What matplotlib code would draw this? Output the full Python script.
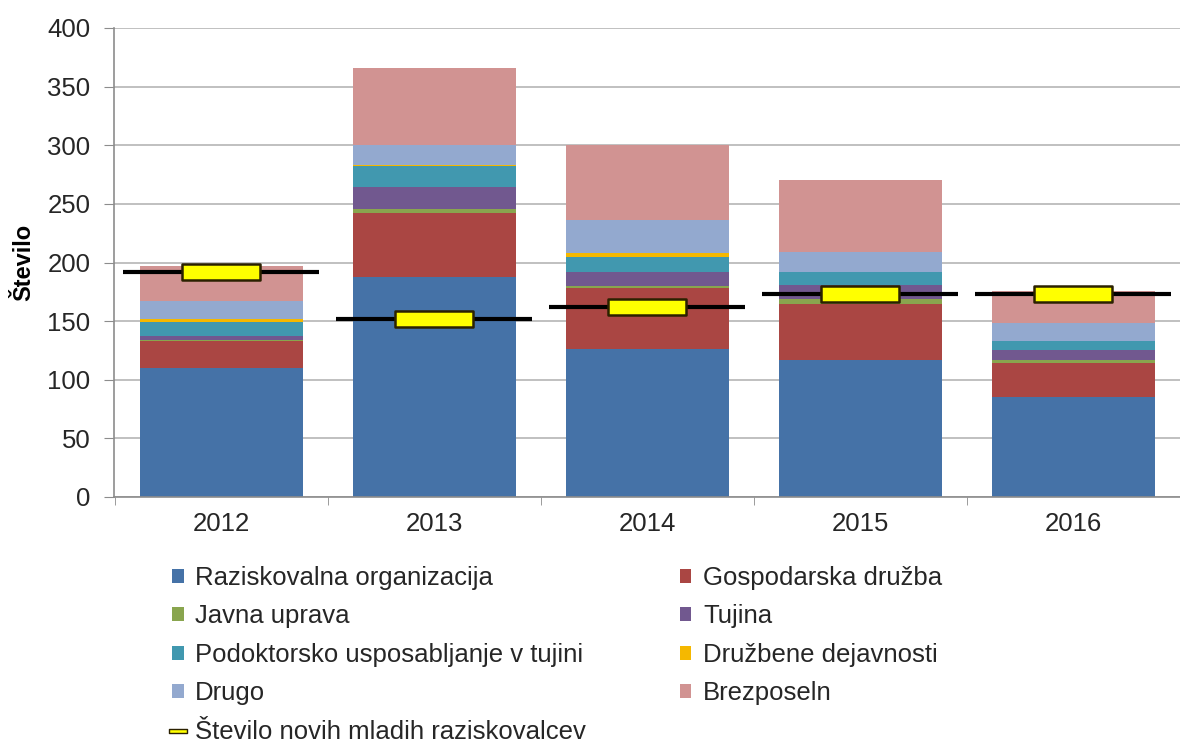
import matplotlib

matplotlib.use("Agg")
import matplotlib.pyplot as plt
from matplotlib.lines import Line2D
from matplotlib.path import Path

plt.rcParams.update({
    "font.family": ["Liberation Sans", "DejaVu Sans"],
    "font.size": 18.5,
    "text.color": "#262626",
    "xtick.color": "#262626",
    "ytick.color": "#262626",
})

years = ["2012", "2013", "2014", "2015", "2016"]

categories = [
    "Raziskovalna organizacija",
    "Gospodarska družba",
    "Javna uprava",
    "Tujina",
    "Podoktorsko usposabljanje v tujini",
    "Družbene dejavnosti",
    "Drugo",
    "Brezposeln",
]
colors = ["#4572A7", "#AA4643", "#89A54E", "#71588F",
          "#4198AF", "#F5B800", "#93A9CF", "#D19392"]

raziskovalna = [110, 188, 126, 117, 85]
gospodarska = [23, 54, 52, 48, 29]
javna_uprava = [1, 4, 2, 4, 3]
tujina = [3, 18, 12, 12, 8]
podoktorsko = [12, 18, 13, 11, 8]
druzbene = [3, 1, 3, 0, 0]
drugo = [15, 17, 28, 17, 15]
brezposeln = [30, 66, 64, 61, 28]

novi_mr = [192, 152, 162, 173, 173]
line_label = "Število novih mladih raziskovalcev"

series = [raziskovalna, gospodarska, javna_uprava, tujina,
          podoktorsko, druzbene, drugo, brezposeln]

fig = plt.figure(figsize=(11.8, 7.44), dpi=100)
ax = fig.add_axes([114 / 1180, 1 - 497 / 744, 1 - 114 / 1180, 469 / 744])

x = list(range(len(years)))
bottom = [0] * len(years)
handles = []
for name, vals, col in zip(categories, series, colors):
    b = ax.bar(x, vals, bottom=bottom, width=0.765, color=col, label=name, zorder=2)
    handles.append(b)
    bottom = [bo + v for bo, v in zip(bottom, vals)]

# horizontal black bars + yellow rectangle marker for the line series
ax.hlines(novi_mr, [i - 0.46 for i in x], [i + 0.46 for i in x],
          color="black", lw=3, zorder=3)
rect = Path([(-1, -0.2), (1, -0.2), (1, 0.2), (-1, 0.2), (-1, -0.2)],
            [Path.MOVETO, Path.LINETO, Path.LINETO, Path.LINETO, Path.CLOSEPOLY])
ax.plot(x, novi_mr, ls="none", marker=rect, ms=56, mfc="#FFFF00",
        mec="#2b2100", mew=1.8, zorder=4)

ax.set_xlim(-0.503, 4.466)
ax.set_ylim(0, 400)
ax.set_yticks(range(0, 401, 50))
ax.set_xticks(x)
ax.set_xticklabels(years)
ax.set_xticks([i + 0.5 for i in range(-1, 5)], minor=True)
ax.tick_params(axis="x", which="major", length=0, pad=11)
ax.tick_params(axis="x", which="minor", length=6, color="#8c8c8c")
ax.tick_params(axis="y", length=7, pad=10, color="#8c8c8c")

ax.grid(True, axis="y", color="#b5b5b5", lw=1.2, zorder=0)
ax.set_axisbelow(True)
for s in ("top", "right"):
    ax.spines[s].set_visible(False)
for s in ("left", "bottom"):
    ax.spines[s].set_color("#8c8c8c")
    ax.spines[s].set_linewidth(1.2)

ax.set_ylabel("Število", fontsize=17, fontweight="bold")
ax.yaxis.set_label_coords(-0.074, 0.5)

line_handle = Line2D([], [], color="black", lw=2, marker=rect, ms=13,
                     mfc="#FFFF00", mec="#2b2100", mew=1)
leg_handles = [handles[0], handles[2], handles[4], handles[6], line_handle,
               handles[1], handles[3], handles[5], handles[7]]
leg_labels = [categories[0], categories[2], categories[4], categories[6], line_label,
              categories[1], categories[3], categories[5], categories[7]]
fig.legend(leg_handles, leg_labels, ncol=2, loc="upper left",
           bbox_to_anchor=(172 / 1180, 1 - 566 / 744), frameon=False,
           borderpad=0, borderaxespad=0, handlelength=0.45, handleheight=0.45,
           handletextpad=0.45, labelspacing=0.56, columnspacing=3.65,
           fontsize=18.5)

fig.savefig("out.png", dpi=100)
